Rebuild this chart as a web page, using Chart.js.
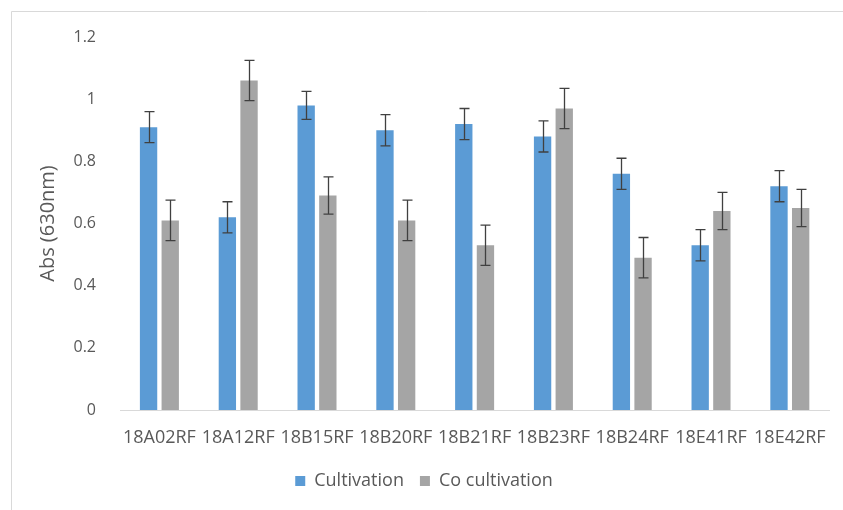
<!DOCTYPE html>
<html><head><meta charset="utf-8">
<script src="https://cdn.jsdelivr.net/npm/chart.js@4/dist/chart.umd.min.js"></script>
<style>html,body{margin:0;padding:0;background:#fff}#wrap{width:843px;height:510px;position:relative}</style>
</head><body><div id="wrap"><canvas id="c"></canvas></div>
<script>
const categories = ["18A02RF","18A12RF","18B15RF","18B20RF","18B21RF","18B23RF","18B24RF","18E41RF","18E42RF"];
const cultivation = [0.91,0.62,0.98,0.90,0.92,0.88,0.76,0.53,0.72];
const cultivationErr = [0.05,0.05,0.045,0.05,0.05,0.05,0.05,0.05,0.05];
const coCultivation = [0.61,1.06,0.69,0.61,0.53,0.97,0.49,0.64,0.65];
const coCultivationErr = [0.065,0.065,0.06,0.065,0.065,0.065,0.065,0.06,0.06];
const yTicks = [0,0.2,0.4,0.6,0.8,1,1.2];

const FONT = "'Open Sans',sans-serif";
const errors = [cultivationErr, coCultivationErr];

const framePlugin = {
  id:'frame',
  beforeDraw(chart){
    const c = chart.ctx;
    c.save();
    c.fillStyle='#fff'; c.fillRect(0,0,chart.width,chart.height);
    c.strokeStyle='#d9d9d9'; c.lineWidth=1;
    c.beginPath(); c.moveTo(11.5,chart.height); c.lineTo(11.5,11.5); c.lineTo(chart.width,11.5); c.stroke();
    c.restore();
  }
};
const errPlugin = {
  id:'errbars',
  afterDatasetsDraw(chart){
    const c = chart.ctx, y = chart.scales.y;
    c.save(); c.strokeStyle='#404040'; c.lineWidth=1.3;
    chart.data.datasets.forEach((ds,di)=>{
      const meta = chart.getDatasetMeta(di);
      meta.data.forEach((bar,i)=>{
        const v = ds.data[i], e = errors[di][i];
        const x = Math.round(bar.x)+0.5;
        const yt = y.getPixelForValue(v+e), yb = y.getPixelForValue(v-e);
        c.beginPath();
        c.moveTo(x,yt); c.lineTo(x,yb);
        c.moveTo(x-5,yt); c.lineTo(x+5,yt);
        c.moveTo(x-5,yb); c.lineTo(x+5,yb);
        c.stroke();
      });
    });
    c.restore();
  }
};

new Chart(document.getElementById('c'),{
  type:'bar',
  data:{labels:categories,datasets:[
    {label:'Cultivation',data:cultivation,backgroundColor:'#5B9BD5',categoryPercentage:0.55,barPercentage:0.8},
    {label:'Co cultivation',data:coCultivation,backgroundColor:'#A5A5A5',categoryPercentage:0.55,barPercentage:0.8}
  ]},
  options:{
    responsive:true,maintainAspectRatio:false,animation:false,
    layout:{padding:{top:37,left:12,right:7,bottom:10}},
    plugins:{
      tooltip:{enabled:false},
      legend:{position:'bottom',labels:{font:{family:FONT,size:18},color:'#595959',boxWidth:10,boxHeight:10,padding:16}}
    },
    scales:{
      x:{grid:{display:false,drawTicks:false},border:{color:'#d9d9d9'},
         ticks:{font:{family:FONT,size:18},color:'#595959',padding:17,maxRotation:0,autoSkip:false},
         afterFit(s){s.height=46;}},
      y:{min:0,max:1.2,grid:{display:false},border:{display:false},
         afterBuildTicks(s){s.ticks=yTicks.map(v=>({value:v}));},
         ticks:{font:{family:FONT,size:16},color:'#595959',padding:16,callback:v=>String(v)},
         title:{display:true,text:'Abs (630nm)',font:{family:FONT,size:20},color:'#595959',padding:{top:24,bottom:0}},
         afterFit(s){s.width=108;}}
    }
  },
  plugins:[framePlugin,errPlugin]
});
</script></body></html>
